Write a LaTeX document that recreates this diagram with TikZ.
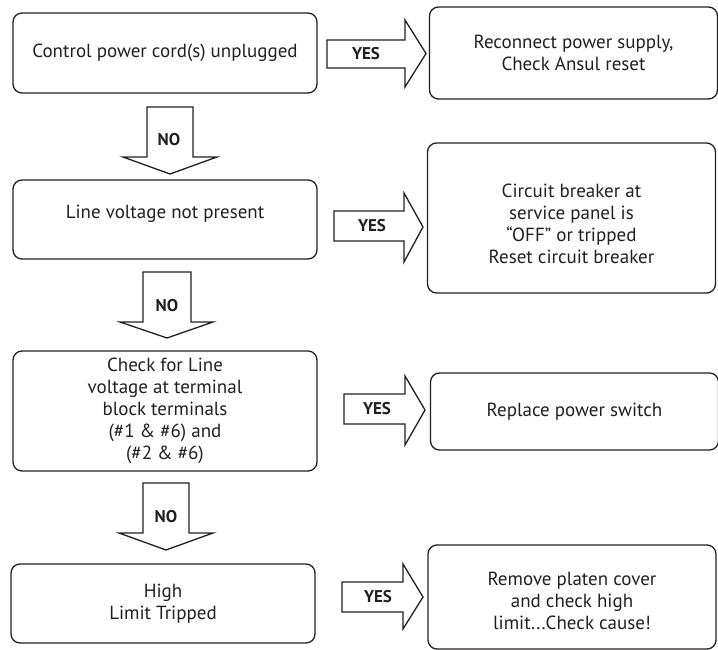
\documentclass[tikz,border=0pt]{standalone}
\usepackage{fontspec}
\setmainfont{PT Sans}
\definecolor{ink}{HTML}{231F20}
\tikzset{
  qbox/.style={draw=ink,line width=1.3pt,rounded corners=9pt,align=center,text=ink,
    minimum width=304pt,minimum height=80pt,font=\fontsize{19}{22}\selectfont},
  abox/.style={qbox,minimum width=288pt},
  blockarrow/.style={draw=ink,line width=1.3pt,line join=miter},
  yesno/.style={inner sep=0pt,text=ink,font=\bfseries\fontsize{17}{20}\selectfont}
}
\begin{document}
\begin{tikzpicture}[x=1pt,y=-1pt]
\useasboundingbox (0,0) rectangle (718,650);
% questions on the left
\node[qbox] (q1) at (165,53) {Control power cord(s) unplugged};
\node[qbox,minimum height=79pt,text depth=16pt] (q2) at (165,219.5) {Line voltage not present};
\node[qbox,minimum height=120pt] (q3) at (165,411) {Check for Line\\voltage at terminal\\block terminals\\(\#1 \& \#6) and\\(\#2 \& \#6)};
\node[qbox,minimum height=79pt] (q4) at (163,603.5) {High\\Limit Tripped};
% answers on the right
\node[abox,minimum height=92pt] (a1) at (573.5,53) {Reconnect power supply,\\Check Ansul reset};
\node[abox,minimum height=150pt,text height=92pt] (a2) at (571.5,218) {Circuit breaker at\\service panel is\\``OFF'' or tripped\\Reset circuit breaker};
\node[abox,minimum height=77pt] (a3) at (574.5,411.5) {Replace power switch};
\node[abox,minimum height=104pt,text height=65pt] (a4) at (572,597) {Remove platen cover\\and check high\\limit...Check cause!};
% yes arrows
\draw[blockarrow] (327,40) -- (405,40) -- (405,20) -- (426,53.5) -- (405,87) -- (405,68) -- (327,68) -- cycle;
\node[yesno] (y1) at (366,54) {YES};
\draw[blockarrow] (334,211) -- (404,211) -- (404,193) -- (423,227) -- (404,262) -- (404,241) -- (334,241) -- cycle;
\node[yesno] (y2) at (372,226) {YES};
\draw[blockarrow] (344,394) -- (405,394) -- (405,376) -- (425,410) -- (405,445) -- (405,424) -- (344,424) -- cycle;
\node[yesno] (y3) at (377,409) {YES};
\draw[blockarrow] (342,582) -- (403,582) -- (403,564) -- (423,597) -- (403,629) -- (403,612) -- (342,612) -- cycle;
\node[yesno] (y4) at (378,597) {YES};
% no arrows
\draw[blockarrow] (147,107) -- (193,107) -- (193,157) -- (217,157) -- (170,174) -- (123,157) -- (147,157) -- cycle;
\node[yesno] (n1) at (169,140) {NO};
\draw[blockarrow] (143,272) -- (191,272) -- (191,322) -- (213,322) -- (167,338) -- (120,322) -- (143,322) -- cycle;
\node[yesno] (n2) at (167,306) {NO};
\draw[blockarrow] (143,483) -- (189,483) -- (189,533) -- (213,533) -- (166,550) -- (119,533) -- (143,533) -- cycle;
\node[yesno] (n3) at (166,517) {NO};
\end{tikzpicture}
\end{document}
